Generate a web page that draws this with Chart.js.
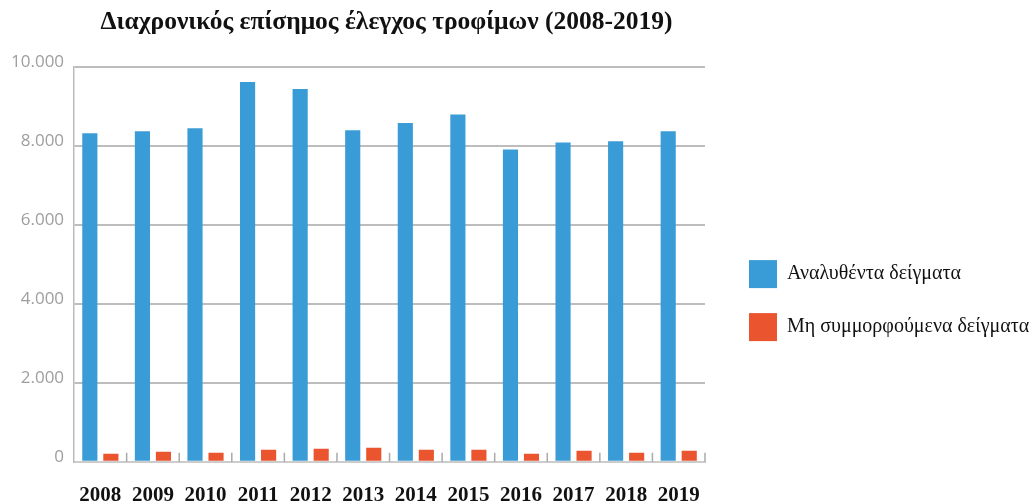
<!DOCTYPE html>
<html>
<head>
<meta charset="utf-8">
<script src="https://cdn.jsdelivr.net/npm/chart.js@4"></script>
<style>
  html, body { margin: 0; padding: 0; background: #fff; }
  #wrap { width: 1034px; height: 503px; }
</style>
</head>
<body>
<div id="wrap"><canvas id="food-chart"></canvas></div>
<script>
const years = ['2008', '2009', '2010', '2011', '2012', '2013', '2014', '2015', '2016', '2017', '2018', '2019'];
const analysedSamples = [8320, 8370, 8450, 9620, 9440, 8400, 8580, 8800, 7910, 8090, 8120, 8370];
const nonCompliantSamples = [205, 255, 230, 305, 330, 355, 305, 305, 205, 280, 230, 280];
const seriesLabels = ['Αναλυθέντα δείγματα', 'Μη συμμορφούμενα δείγματα'];
const chartTitle = 'Διαχρονικός επίσημος έλεγχος τροφίμων (2008-2019)';

const blue = '#3a9cd6';
const orange = '#ea5530';
const serif = '"Liberation Serif", "DejaVu Serif", serif';

// title centred over the plot area, not the whole canvas
const areaTitle = {
  id: 'areaTitle',
  afterDraw(chart, args, options) {
    const { ctx, chartArea: { left, right } } = chart;
    ctx.save();
    ctx.font = 'bold 25.5px ' + serif;
    ctx.fillStyle = '#111';
    ctx.textAlign = 'center';
    ctx.textBaseline = 'middle';
    ctx.fillText(options.text, (left + right) / 2 + options.shift, options.y);
    ctx.restore();
  },
};

// short ticks between the categories, sitting on the axis inside the plot
const innerTicks = {
  id: 'innerTicks',
  afterDatasetsDraw(chart) {
    const { ctx, chartArea: { right, bottom }, scales: { x } } = chart;
    ctx.save();
    ctx.strokeStyle = '#aaaaaa';
    ctx.lineWidth = 1.5;
    ctx.beginPath();
    for (let i = 0; i < years.length; i++) {
      const px = i < years.length - 1
        ? (x.getPixelForValue(i) + x.getPixelForValue(i + 1)) / 2
        : right;
      ctx.moveTo(px, bottom - 9);
      ctx.lineTo(px, bottom);
    }
    ctx.stroke();
    ctx.restore();
  },
};

const config = {
  type: 'bar',
  data: {
    labels: years,
    datasets: [
      {
        label: seriesLabels[0],
        data: analysedSamples,
        backgroundColor: blue,
        barPercentage: 0.72,
        categoryPercentage: 0.8,
      },
      {
        label: seriesLabels[1],
        data: nonCompliantSamples,
        backgroundColor: orange,
        barPercentage: 0.72,
        categoryPercentage: 0.8,
      },
    ],
  },
  options: {
    responsive: true,
    maintainAspectRatio: false,
    animation: false,
    layout: {
      padding: { top: 67, left: 1, right: 2, bottom: -26 },
    },
    plugins: {
      areaTitle: { text: chartTitle, y: 22, shift: -3 },
      title: { display: false },
      tooltip: { enabled: false },
      legend: {
        position: 'right',
        maxWidth: 308,
        title: { display: true, text: '', font: { size: 1 }, padding: 2 },
        labels: {
          boxWidth: 28,
          boxHeight: 28,
          padding: 25,
          color: '#111',
          font: { family: serif, size: 20 },
        },
      },
    },
    scales: {
      x: {
        grid: { display: false, drawTicks: false },
        border: { color: '#cccccc', width: 2 },
        ticks: {
          padding: 21,
          color: '#111',
          font: { family: serif, size: 21, weight: 'bold' },
        },
      },
      y: {
        min: 0,
        max: 10000,
        grid: { color: '#bdbdbd', lineWidth: 2, drawTicks: false },
        border: { color: '#bbbbbb', width: 1.5 },
        ticks: {
          stepSize: 2000,
          padding: 10,
          labelOffset: -5,
          color: '#9e9e9e',
          font: { family: '"Open Sans", sans-serif', size: 17 },
          callback: (v) => String(v).replace(/\B(?=(\d{3})+(?!\d))/g, '.'),
        },
      },
      // empty spacer between plot and legend
      gap: {
        type: 'linear',
        position: 'right',
        grid: { display: false, drawTicks: false },
        border: { display: false },
        ticks: { display: false },
        afterFit: (scale) => {
          scale.width = 19;
        },
      },
    },
  },
  plugins: [areaTitle, innerTicks],
};

const ctx = document.getElementById('food-chart').getContext('2d');
const chart = new Chart(ctx, config);
</script>
</body>
</html>
